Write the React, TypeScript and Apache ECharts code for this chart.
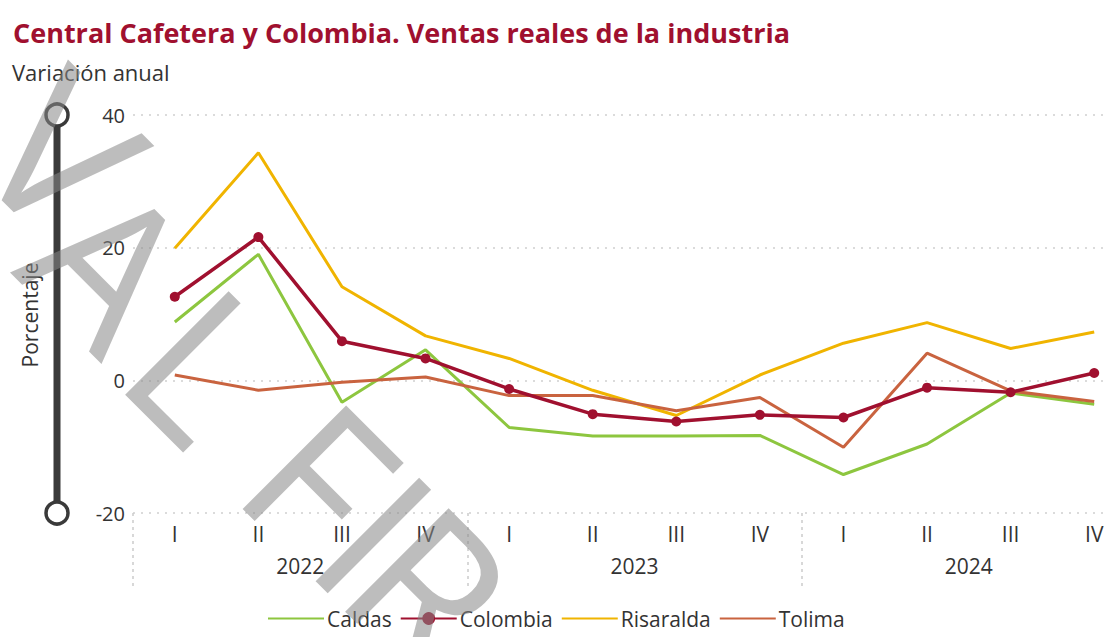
import React, { useEffect, useRef } from "react";
import * as echarts from "echarts";

const quarters = ["I", "II", "III", "IV", "I", "II", "III", "IV", "I", "II", "III", "IV"];
const years = ["2022", "2023", "2024"];
const yTicks = { min: -20, max: 40, interval: 20 };

const caldas = [8.8, 19.0, -3.3, 4.6, -7.1, -8.4, -8.4, -8.3, -14.2, -9.6, -1.9, -3.6];
const colombia = [12.6, 21.6, 5.9, 3.3, -1.3, -5.1, -6.2, -5.2, -5.6, -1.1, -1.8, 1.1];
const risaralda = [19.9, 34.3, 14.1, 6.7, 3.3, -1.5, -5.3, 0.8, 5.6, 8.7, 4.8, 7.3];
const tolima = [0.8, -1.5, -0.3, 0.5, -2.3, -2.3, -4.6, -2.6, -10.1, 4.1, -1.6, -3.2];

const seriesNames = ["Caldas", "Colombia", "Risaralda", "Tolima"];
const seriesColors = ["#8dc63f", "#a0102f", "#f0b400", "#c9633f"];

const titleText = "Central Cafetera y Colombia. Ventas reales de la industria";
const subtitleText = "Variación anual";
const yAxisTitle = "Porcentaje";
const watermarkLetters = ["V", "A", "L", "F", "I", "R"];
// centre of each watermark glyph (decorative overlay)
const watermarkX = [64, 112, 205, 322, 378, 432];
const watermarkY = [150, 262, 362, 476, 531, 586];

const FONT = "'Open Sans', 'Noto Sans', sans-serif";

export default function App() {
  const ref = useRef<HTMLDivElement>(null);

  useEffect(() => {
    if (!ref.current) return;
    const chart = echarts.init(ref.current, null, { renderer: "svg" });
    const data = [caldas, colombia, risaralda, tolima];

    const series: any[] = data.map((vals, i) => {
      const isCol = seriesNames[i] === "Colombia";
      return {
        name: seriesNames[i],
        type: "line",
        xAxisIndex: 0,
        yAxisIndex: 0,
        data: vals,
        color: seriesColors[i],
        symbol: isCol ? "circle" : "none",
        symbolSize: isCol ? 10 : 0,
        showSymbol: isCol,
        lineStyle: { width: isCol ? 3.5 : 3, color: seriesColors[i] },
        itemStyle: { color: seriesColors[i] },
        z: isCol ? 3 : 2,
      };
    });

    const legendData = seriesNames.map((n) =>
      n === "Colombia"
        ? { name: n }
        : { name: n, itemStyle: { color: "rgba(0,0,0,0)", borderWidth: 0 } }
    );

    const watermark = watermarkLetters.map((ch, i) => ({
      type: "text",
      x: watermarkX[i],
      y: watermarkY[i],
      rotation: -Math.PI / 4,
      z: 100,
      silent: true,
      style: {
        text: ch,
        fontFamily: FONT,
        fontSize: 205,
        fill: "rgba(135,135,135,0.55)",
        textAlign: "center",
        textVerticalAlign: "middle",
      },
    }));

    chart.setOption({
      animation: false,
      textStyle: { fontFamily: FONT },
      title: {
        text: titleText,
        left: 8,
        top: 14,
        textStyle: { fontFamily: FONT, fontSize: 27, fontWeight: "bold", color: "#a0102f" },
      },
      grid: {
        left: 133,
        right: -32,
        top: 115,
        bottom: 124,
        containLabel: false,
        outerBoundsMode: "none",
      },
      legend: {
        left: 262,
        top: 603,
        padding: 5,
        itemWidth: 56,
        itemHeight: 16,
        itemGap: 8,
        textStyle: { fontFamily: FONT, fontSize: 21, color: "#333", padding: [0, 0, 0, -2] },
        data: legendData,
      },
      xAxis: [
        {
          type: "category",
          data: quarters,
          boundaryGap: true,
          axisLine: { show: false },
          axisTick: { show: false },
          axisLabel: { interval: 0, margin: 10, fontSize: 21, color: "#333", fontFamily: FONT },
          splitLine: { show: false },
        },
        {
          type: "category",
          data: years,
          position: "bottom",
          boundaryGap: true,
          axisLine: { show: false },
          axisTick: {
            show: true,
            interval: 0,
            length: 74,
            lineStyle: { color: "#cccccc", type: [3, 4], width: 1.5 },
          },
          axisLabel: { interval: 0, margin: 42, fontSize: 21, color: "#333", fontFamily: FONT },
          splitLine: { show: false },
        },
      ],
      yAxis: {
        type: "value",
        min: yTicks.min,
        max: yTicks.max,
        interval: yTicks.interval,
        axisLine: { show: false },
        axisTick: { show: false },
        axisLabel: { margin: 8, fontSize: 20, color: "#333", fontFamily: FONT },
        splitLine: { show: true, lineStyle: { color: "#cfcfcf", type: [2, 6], width: 1.5 } },
      },
      graphic: [
        {
          type: "text",
          left: 12,
          top: 61,
          style: { text: subtitleText, fontFamily: FONT, fontSize: 22, fill: "#333" },
        },
        {
          type: "text",
          x: 30,
          y: 315,
          rotation: Math.PI / 2,
          style: {
            text: yAxisTitle,
            fontFamily: FONT,
            fontSize: 21,
            fill: "#333",
            textAlign: "center",
            textVerticalAlign: "middle",
          },
        },
        {
          type: "line",
          shape: { x1: 57, y1: 115, x2: 57, y2: 513 },
          style: { stroke: "#3a3a3a", lineWidth: 7 },
          z: 10,
        },
        {
          type: "circle",
          shape: { cx: 57, cy: 115, r: 11 },
          style: { fill: "#fff", stroke: "#3a3a3a", lineWidth: 3.5 },
          z: 11,
        },
        {
          type: "circle",
          shape: { cx: 57, cy: 513, r: 11 },
          style: { fill: "#fff", stroke: "#3a3a3a", lineWidth: 3.5 },
          z: 11,
        },
        ...watermark,
      ],
      series,
    });

    return () => chart.dispose();
  }, []);

  return (
    <div
      ref={ref}
      style={{ position: "absolute", left: 0, top: 0, width: 1104, height: 637, background: "#fff" }}
    />
  );
}
